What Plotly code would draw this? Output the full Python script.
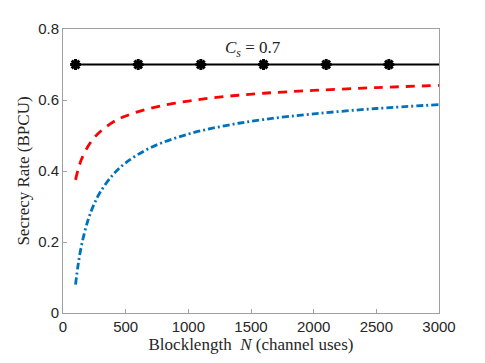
import plotly.graph_objects as go

# Blocklength N (channel uses)
n_curve = [100, 120, 150, 200, 250, 300, 400, 500, 700, 1000, 1300, 1600, 2000, 2500, 3000]
# Red dashed curve
rate_red = [0.375, 0.403, 0.435, 0.470, 0.494, 0.512, 0.538, 0.555, 0.577, 0.597, 0.610, 0.619, 0.627, 0.635, 0.641]
# Blue dash-dot curve
rate_blue = [0.080, 0.134, 0.194, 0.262, 0.308, 0.342, 0.390, 0.423, 0.466, 0.504, 0.528, 0.545, 0.561, 0.576, 0.587]
# Secrecy capacity line
n_cap = [100, 600, 1100, 1600, 2100, 2600, 3000]
rate_cap = [0.7, 0.7, 0.7, 0.7, 0.7, 0.7, 0.7]
n_markers = [100, 600, 1100, 1600, 2100, 2600]
rate_markers = [0.7, 0.7, 0.7, 0.7, 0.7, 0.7]

x_ticks = [0, 500, 1000, 1500, 2000, 2500, 3000]
y_ticks = [0, 0.2, 0.4, 0.6, 0.8]

fig = go.Figure()
fig.add_trace(go.Scatter(x=n_cap, y=rate_cap, mode="lines",
                         line=dict(color="black", width=2), showlegend=False))
fig.add_trace(go.Scatter(x=n_markers, y=rate_markers, mode="markers",
                         marker=dict(symbol="asterisk-open", size=9, color="black",
                                     line=dict(color="black", width=3)),
                         showlegend=False))
fig.add_trace(go.Scatter(x=n_curve, y=rate_red, mode="lines", line_shape="spline",
                         line=dict(color="#ff0000", width=2.8, dash="9px,7px"), showlegend=False))
fig.add_trace(go.Scatter(x=n_curve, y=rate_blue, mode="lines", line_shape="spline",
                         line=dict(color="#0072bd", width=2.8, dash="7px,3px,2px,3px"), showlegend=False))

fig.add_annotation(x=1516, y=0.745, text="<i>C<sub>s</sub></i> = 0.7", showarrow=False,
                   font=dict(family="Liberation Serif", size=17, color="#222"))

axis_common = dict(showline=True, linecolor="#a0a0a0", linewidth=1, mirror=True,
                   ticks="inside", ticklen=4, tickcolor="#a0a0a0", showgrid=False,
                   zeroline=False, tickfont=dict(family="Liberation Sans", size=15, color="#262626"))

fig.update_xaxes(range=[0, 3000], tickvals=x_ticks, ticktext=[str(v) for v in x_ticks],
                 title=dict(text="Blocklength&nbsp;&nbsp;<i>N</i> (channel uses)", standoff=2,
                            font=dict(family="Liberation Serif", size=17, color="#262626")),
                 **axis_common)
fig.update_yaxes(range=[0, 0.8], tickvals=y_ticks, ticktext=["0", "0.2", "0.4", "0.6", "0.8"],
                 title=dict(text="Secrecy Rate (BPCU)", standoff=4,
                            font=dict(family="Liberation Serif", size=17, color="#262626")),
                 **axis_common)

# the page body adds an 8px margin, so the figure is sized/offset to compensate
fig.update_layout(width=477, height=355, margin=dict(l=55, r=46, t=18, b=50),
                  plot_bgcolor="white", paper_bgcolor="white")
fig.write_html("out.html")
